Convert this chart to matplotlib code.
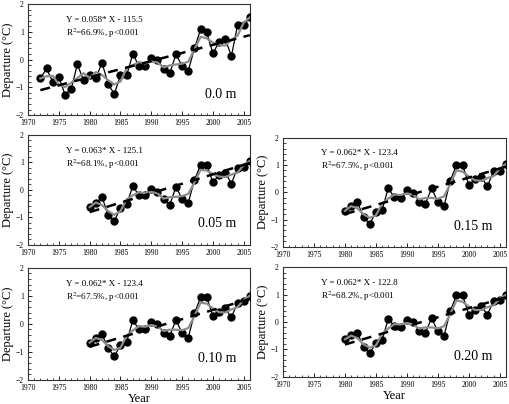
import numpy as np
import pandas as pd
import matplotlib

matplotlib.use('Agg')
import matplotlib.pyplot as plt
from matplotlib.ticker import MultipleLocator

plt.rcParams['font.family'] = ['Liberation Serif', 'DejaVu Serif']
plt.rcParams['mathtext.fontset'] = 'stix'

# 各深度的地温距平 (°C)
years_00 = list(range(1972, 2007))
dep_00 = [-0.68, -0.32, -0.80, -0.64, -1.26, -1.07, -0.17, -0.74, -0.56, -0.68,
          -0.11, -0.88, -1.24, -0.56, -0.57, 0.20, -0.23, -0.23, 0.04, -0.02,
          -0.33, -0.49, 0.19, -0.23, -0.40, 0.40, 1.09, 0.98, 0.22, 0.64,
          0.74, 0.13, 1.24, 1.23, 1.52]

years_80 = list(range(1980, 2007))
dep_05 = [-0.63, -0.49, -0.25, -0.93, -1.14, -0.65, -0.53, 0.14, -0.20, -0.20,
          0.04, -0.06, -0.35, -0.55, 0.11, -0.33, -0.46, 0.35, 0.92, 0.92,
          0.27, 0.55, 0.63, 0.23, 0.81, 0.85, 1.06]
dep_15 = [-0.68, -0.49, -0.35, -0.91, -1.16, -0.74, -0.64, 0.15, -0.19, -0.20,
          0.09, -0.01, -0.35, -0.42, 0.15, -0.35, -0.51, 0.41, 1.00, 1.00,
          0.28, 0.47, 0.57, 0.22, 0.77, 0.79, 1.04]
dep_10 = [-0.67, -0.49, -0.36, -0.88, -1.16, -0.76, -0.64, 0.12, -0.19, -0.19,
          0.06, 0.00, -0.34, -0.43, 0.14, -0.34, -0.49, 0.37, 0.95, 0.95,
          0.27, 0.43, 0.55, 0.23, 0.76, 0.80, 1.01]
dep_20 = [-0.63, -0.46, -0.40, -0.90, -1.14, -0.76, -0.66, 0.12, -0.16, -0.19,
          0.08, 0.00, -0.34, -0.39, 0.14, -0.34, -0.51, 0.39, 0.97, 0.97,
          0.27, 0.45, 0.59, 0.27, 0.75, 0.80, 0.99]

# 图中标注的回归方程与 R2
depth_labels = ['0.0 m', '0.05 m', '0.15 m', '0.10 m', '0.20 m']
eq_labels = ['Y = 0.058* X - 115.5', 'Y = 0.063* X - 125.1', 'Y = 0.062* X - 123.4',
             'Y = 0.062* X - 123.4', 'Y = 0.062* X - 122.8']
r2_labels = ['66.9%', '68.1%', '67.5%', '67.5%', '68.2%']
# 趋势线首末端数值
trend_start = [-1.10, -0.81, -0.80, -0.82, -0.82]
trend_end = [0.88, 0.98, 0.94, 0.89, 0.90]

panels = [
    (years_00, dep_00, [0.055, 0.715, 0.435, 0.275]),
    (years_80, dep_05, [0.055, 0.394, 0.435, 0.272]),
    (years_80, dep_15, [0.555, 0.389, 0.437, 0.270]),
    (years_80, dep_10, [0.055, 0.060, 0.435, 0.277]),
    (years_80, dep_20, [0.555, 0.067, 0.437, 0.272]),
]

fig = plt.figure(figsize=(5.10, 4.04), dpi=100)

for i, (yrs, dep, rect) in enumerate(panels):
    ax = fig.add_axes(rect)
    x = np.array(yrs)
    y = np.array(dep)

    # 3年滑动平均（两端保留原值）
    smooth = pd.Series(y).rolling(3, center=True).mean()
    smooth.iloc[0] = y[0]
    smooth.iloc[-1] = y[-1]

    ax.plot(x, y, color='black', lw=0.9, marker='o', ms=5, zorder=3)
    ax.plot(x, smooth, color='#8c8c8c', lw=1.6, zorder=4)
    ax.plot([x[0], x[-1]], [trend_start[i], trend_end[i]], color='black', lw=1.8,
            ls=(0, (4, 3)), zorder=5)

    ax.set_xlim(1970, 2006)
    ax.set_ylim(-2, 2)
    ax.set_xticks([1970, 1975, 1980, 1985, 1990, 1995, 2000, 2005])
    ax.set_yticks([-2, -1, 0, 1, 2])
    ax.xaxis.set_minor_locator(MultipleLocator(1))
    ax.yaxis.set_minor_locator(MultipleLocator(0.2))
    ax.tick_params(which='both', direction='in', labelsize=5.5, pad=3)
    ax.tick_params(which='major', length=3, width=0.6)
    ax.tick_params(which='minor', length=1.8, width=0.5)
    for sp in ax.spines.values():
        sp.set_linewidth(0.8)
        sp.set_color('#333333')

    ax.set_ylabel('Departure (°C)', fontsize=9, labelpad=1)
    if i >= 3:
        ax.set_xlabel('Year', fontsize=9, labelpad=1)

    ax.text(0.17, 0.84, eq_labels[i], transform=ax.transAxes, fontsize=6.5)
    ax.text(0.17, 0.71, 'R$^{2}$=' + r2_labels[i] + ', p<0.001',
            transform=ax.transAxes, fontsize=6.5)
    ax.text(0.94, 0.19, depth_labels[i], transform=ax.transAxes,
            fontsize=10, ha='right', va='center')

plt.savefig('out.png', dpi=100)
plt.close()
